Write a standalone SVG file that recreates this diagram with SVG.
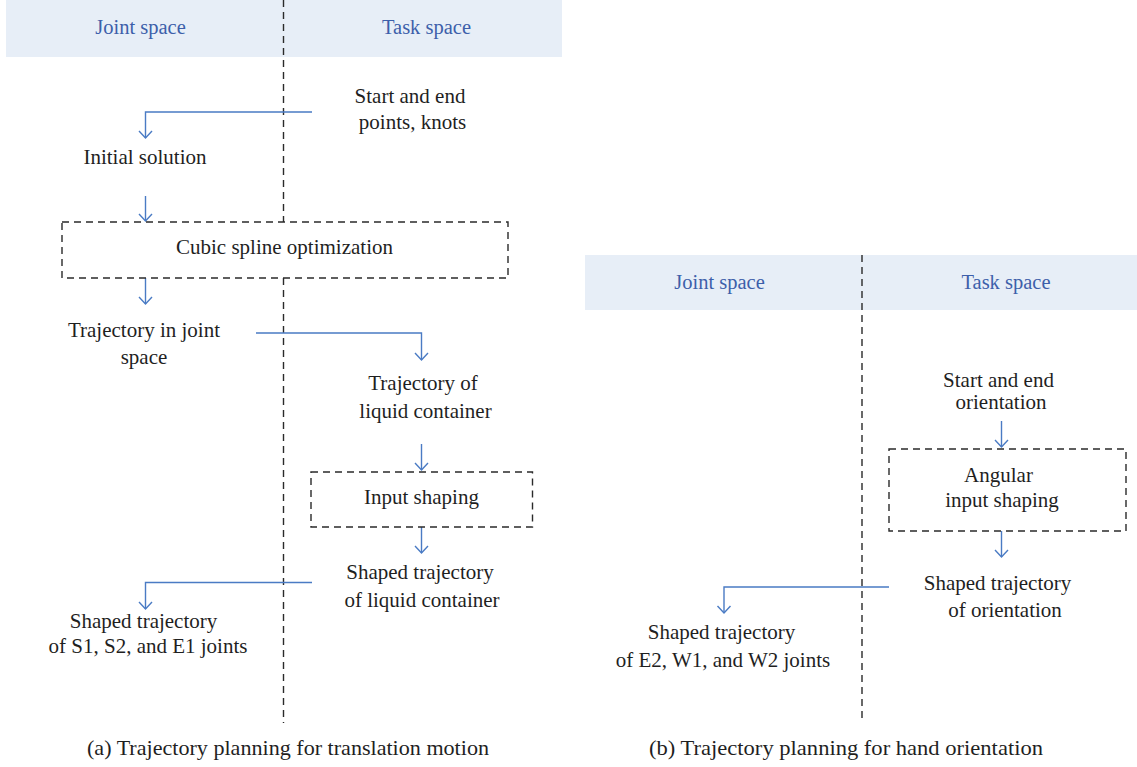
<svg xmlns="http://www.w3.org/2000/svg" width="1137" height="767" viewBox="0 0 1137 767">
<style>
.band{fill:#e7eef7}
.hdr{font-size:20.5px;fill:#3d5faa;text-anchor:middle}
.t{font-size:21px;fill:#1f1f1f;text-anchor:middle}
.cap{font-size:21px;fill:#1f1f1f;text-anchor:middle}
.dash{fill:none;stroke:#2a2a2a;stroke-width:1.4;stroke-dasharray:7 5}
.con{fill:none;stroke:#4a7bc4;stroke-width:1.4;marker-end:url(#ah)}
</style>
<defs>
<marker id="ah" viewBox="-8 -8 16 10" refX="0" refY="0" markerWidth="16" markerHeight="10" markerUnits="userSpaceOnUse" orient="0">
<path d="M-6.5,-7 L0,0 L6.5,-7" fill="none" stroke="#4a7bc4" stroke-width="1.4"/>
</marker>
</defs>
<rect width="1137" height="767" fill="#ffffff"/>
<g font-family="Liberation Serif, serif">
<g id="panel-a-header">
<rect class="band" x="6" y="0" width="556" height="57"/>
<text class="hdr" x="140.5" y="34">Joint space</text>
<text class="hdr" x="426.5" y="34">Task space</text>
</g>
<g id="panel-b-header">
<rect class="band" x="585" y="255" width="552" height="55"/>
<text class="hdr" x="719.5" y="289">Joint space</text>
<text class="hdr" x="1006" y="289">Task space</text>
</g>
<g id="dividers">
<path class="dash" d="M283.5,0 V222"/>
<path class="dash" d="M283.5,278 V723"/>
<path class="dash" d="M862,255 V723"/>
</g>
<g id="connectors">
<path class="con" d="M312,112 H145.5 V138"/>
<path class="con" d="M145.5,196 V221"/>
<path class="con" d="M145.5,278 V304"/>
<path class="con" d="M256,333 H421.5 V360"/>
<path class="con" d="M421.5,444 V470"/>
<path class="con" d="M421.5,527 V553"/>
<path class="con" d="M312,582.5 H145.5 V609"/>
<path class="con" d="M1001.5,421 V447"/>
<path class="con" d="M1001.5,531 V557"/>
<path class="con" d="M889,587 H724 V613"/>
</g>
<g id="a-start"><text class="t" x="410" y="103">Start and end</text><text class="t" x="412.5" y="129">points, knots</text></g>
<g id="a-initial"><text class="t" x="145" y="164">Initial solution</text></g>
<g id="a-cubic"><rect class="dash" x="62" y="222" width="446" height="56"/><text class="t" x="284.5" y="254">Cubic spline optimization</text></g>
<g id="a-traj-joint"><text class="t" x="144" y="337">Trajectory in joint</text><text class="t" x="144" y="364">space</text></g>
<g id="a-traj-liquid"><text class="t" x="423" y="390">Trajectory of</text><text class="t" x="425.5" y="418">liquid container</text></g>
<g id="a-input"><rect class="dash" x="311" y="472" width="221.5" height="55"/><text class="t" x="421.5" y="504">Input shaping</text></g>
<g id="a-shaped-liquid"><text class="t" x="420" y="579">Shaped trajectory</text><text class="t" x="422" y="607">of liquid container</text></g>
<g id="a-shaped-joints"><text class="t" x="143.5" y="628">Shaped trajectory</text><text class="t" x="148" y="653">of S1, S2, and E1 joints</text></g>
<g id="b-start"><text class="t" x="998.5" y="387">Start and end</text><text class="t" x="1001" y="409">orientation</text></g>
<g id="b-angular"><rect class="dash" x="889" y="449" width="237" height="82"/><text class="t" x="998.5" y="482">Angular</text><text class="t" x="1002" y="507">input shaping</text></g>
<g id="b-shaped-orient"><text class="t" x="997.5" y="590">Shaped trajectory</text><text class="t" x="1005" y="617">of orientation</text></g>
<g id="b-shaped-joints"><text class="t" x="721.5" y="639">Shaped trajectory</text><text class="t" x="723" y="667">of E2, W1, and W2 joints</text></g>
<g id="captions">
<text class="cap" x="288" y="755" textLength="402" lengthAdjust="spacingAndGlyphs">(a)  Trajectory planning for translation motion</text>
<text class="cap" x="846" y="755" textLength="394" lengthAdjust="spacingAndGlyphs">(b)  Trajectory planning for hand orientation</text>
</g>
</g>
</svg>
